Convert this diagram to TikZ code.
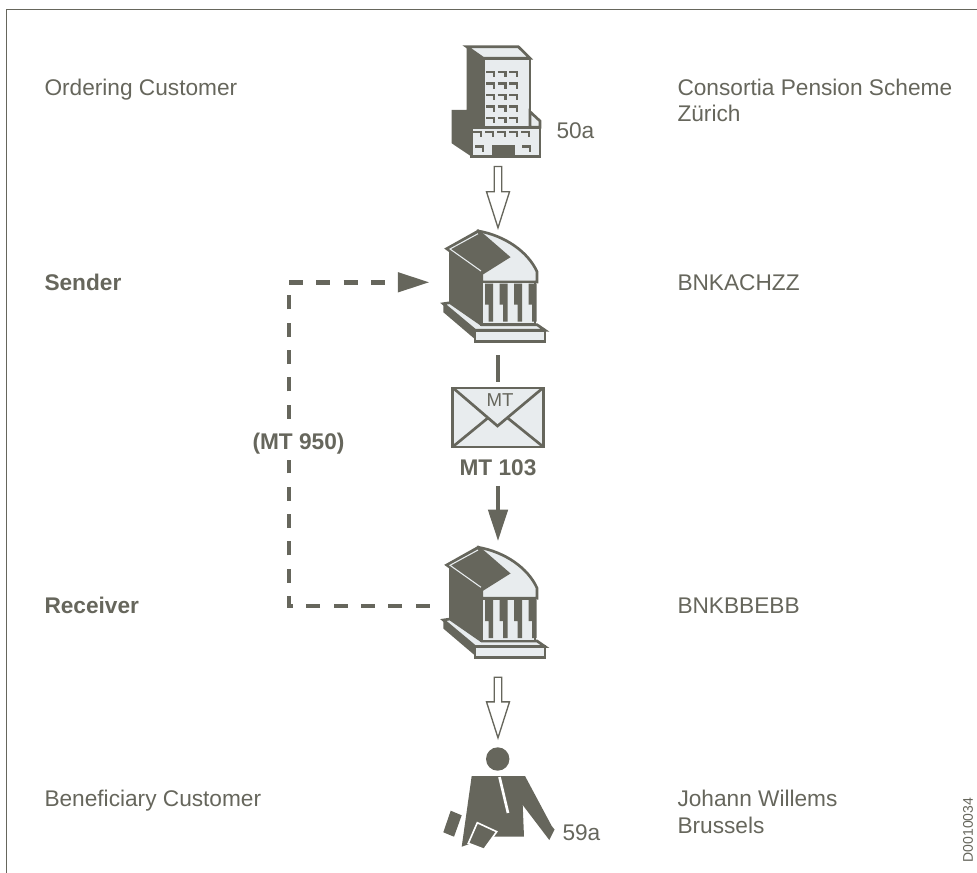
\documentclass[tikz,border=0pt]{standalone}
\usepackage{fontspec}
\setmainfont{Liberation Sans}
\usetikzlibrary{calc,arrows.meta}

\definecolor{swgray}{RGB}{102,102,92}
\definecolor{swlight}{RGB}{232,236,238}

\tikzset{every picture/.style={line width=0.75pt}}
\tikzset{
  icon/.style={draw=swgray, fill=swlight, line width=2pt, line join=miter},
  dark/.style={fill=swgray, draw=swgray, line width=0.5pt, line join=miter},
  win/.style={draw=swgray, line width=1.8pt},
  lbl/.style={inner sep=0.75pt, text=swgray, font=\fontsize{17}{20}\selectfont},
  bold lbl/.style={lbl, font=\fontsize{17}{20}\selectfont\bfseries},
  spot/.style={inner sep=0pt, minimum width=102pt, minimum height=81pt},
  hollow/.style={draw=swgray, fill=white, line width=1pt, line join=miter},
  flow/.style={draw=swgray, line width=3.5pt},
  head/.style={-{Triangle[length=23.8pt,width=14.3pt]}},
  loopline/.style={draw=swgray, line width=3.4pt, dash pattern=on 10.5pt off 10pt},
}

\newcommand{\hollowarrow}[2]{%
  \draw[hollow] ($(#1)+(-3.7,0)$) -- ($(#2)+(-3.7,-36)$) -- ($(#2)+(-11.5,-36)$) -- (#2) -- ($(#2)+(11.5,-36)$) -- ($(#2)+(3.7,-36)$) -- ($(#1)+(3.7,0)$) -- cycle;}

\begin{document}
\begin{tikzpicture}[x=0.75pt,y=0.75pt,yscale=-1,xscale=1]
\useasboundingbox (0,0) rectangle (977,873);

%Straight Lines: frame
\draw[swgray, line width=0.8pt] (6.7,873) -- (6.7,9.5) -- (977,9.5);

%Icon places
\node (bld) [inner sep=0pt, minimum width=66pt, minimum height=82.5pt] at (498,102) {};
\node (bankS) [spot] at (498,282.3) {};
\node (bankR) [spot] at (498,606) {};
\node (person) [inner sep=0pt, minimum width=84pt, minimum height=85pt] at (498,795) {};

%Shape: office tower
\fill[swgray] (466.7,46.7) -- (483.3,58.3) -- (483.3,127.3) -- (471.7,127.3) -- (471.7,156.7) -- (451.7,143.3) -- (451.7,110) -- (466.7,110) -- cycle;
\draw[icon] (466.7,46.7) -- (518.3,46.7) -- (530,58.3) -- (483.3,58.3) -- cycle;
\draw[icon] (483.3,58.3) rectangle (530,127.3);
\draw[icon] (530,111.7) -- (540,121) -- (540,127.3) -- (530,127.3) -- cycle;
\draw[icon] (471.7,127.3) rectangle (540,156.7);
\fill[swgray] (491.7,145) rectangle (515,156.7);
\foreach \wx in {486,497.5,509} \foreach \wy in {72,83.5,95,106.5,118} {\draw[win] (\wx,\wy) -- ++(8,0) -- ++(0,5.5);}
\foreach \wx in {473,485,497,509,521} {\draw[win] (\wx,132) -- ++(8,0) -- ++(0,5.5);}
\draw[win] (475,146.5) -- ++(8,0) -- ++(0,5.5);
\draw[win] (522,146.5) -- ++(8,0) -- ++(0,5.5);

%Shape: banks
\foreach \dy in {-316.3,0} {
\begin{scope}[shift={(0,\dy)}]
\fill[swgray] (443.3,620) -- (475,646.5) -- (475,655.5) -- (443.3,628.5) -- cycle;
\draw[icon] (443.3,620) -- (450,619) -- (481.7,641) -- (537,641) -- (545,646.5) -- (475,646.5) -- cycle;
\draw[icon] (475,646.5) rectangle (545,657.5);
\fill[swgray] (449,565) -- (481.7,589) -- (481.7,641) -- (449,619) -- cycle;
\draw[icon] (478.3,547.3) .. controls (505,552) and (528,568) .. (537,588) -- (537,598.3) -- (481.7,598.3) -- (481.7,590) -- cycle;
\fill[swlight] (481.7,598.3) rectangle (535,641);
\foreach \gx in {485,499.5,514,528.5} {\fill[swgray] (\gx,600) -- (\gx+8,600) -- (\gx+8,638) -- (\gx+3.5,638) -- (\gx+3.5,621) -- (\gx,621) -- cycle;}
\draw[swgray, line width=2pt] (481.7,598.3) rectangle (535,641);
\draw[dark, line width=2pt] (446.7,565) -- (478.3,547.3) -- (508.3,573.3) -- (481.7,590) -- cycle;
\draw[swlight, line width=0.8pt] (478,550) -- (450,565.3) -- (481,587.3);
\end{scope}
}

%Shape: person
\fill[swgray] (497.7,759) circle (11.7);
\fill[swgray] (471.7,776) -- (525,776) -- (551.7,826) -- (554.5,829.5) -- (549.3,840) -- (522.7,805) -- (524,836.7) -- (490,836.7) -- (461.7,846.7) -- cycle;
\draw[white, line width=2pt] (499.5,777) -- (508,813);
\fill[swgray] (450.7,810.7) -- (461.7,815.3) -- (454,836.7) -- (443.3,832.3) -- cycle;
\draw[white, line width=1.2pt, fill=swgray] (477.3,822.7) -- (496.7,831.7) -- (484,849.3) -- (468.3,843.3) -- cycle;

%Shape: envelope
\node (env) [draw=swgray, fill=swlight, line width=2pt, inner sep=0pt, minimum width=68pt, minimum height=44.2pt] at (498,417.5) {};
\draw[swgray, line width=2pt] (453.5,388.3) -- (497.5,426) -- (542.5,388.3);
\draw[swgray, line width=2pt] (452.5,447) -- (487.5,418.3);
\draw[swgray, line width=2pt] (543.5,447) -- (508,418.3);
\node (mtTag) [lbl, anchor=base, font=\fontsize{14}{16}\selectfont] at (500,406.7) {MT};

% Text Node
\node (mtName) [bold lbl, anchor=base] at (498,475) {MT 103};

%Straight Lines: message flow
\draw[flow, shorten <=14pt, shorten >=3.75pt] (bankS.south) -- (env.north);
\draw[flow, head, shorten <=6.75pt, shorten >=7.7pt] (mtName.south) -- (bankR.north);

%Hollow arrows
\coordinate (inA) at ($(bld.south)+(0,9)$);
\coordinate (inB) at ($(bankR.south)+(0,16.7)$);
\hollowarrow{inA}{bankS.north}
\hollowarrow{inB}{person.north}

%Straight Lines: statement loop
\draw[loopline, head] (bankR.west) -- ($(bankR.west)+(-140.7,0)$) |- (bankS.west);
\node (mtStmt) [bold lbl, fill=white, inner sep=4pt, anchor=base] at (298.5,449.5) {(MT 950)};

% Text Node
\node (ordRole) [lbl, anchor=base west] at (43,96) {Ordering Customer};
\node (ordName) [lbl, anchor=base west, align=left] at (676,122) {Consortia Pension Scheme\\Zürich};
\node (sndRole) [bold lbl, anchor=base west] at (43,291) {Sender};
\node (sndBic) [lbl, anchor=base west] at (676,291) {BNKACHZZ};
\node (rcvRole) [bold lbl, anchor=base west] at (43,613) {Receiver};
\node (rcvBic) [lbl, anchor=base west] at (676,613) {BNKBBEBB};
\node (benRole) [lbl, anchor=base west] at (43,806) {Beneficiary Customer};
\node (benName) [lbl, anchor=base west, align=left] at (676,833) {Johann Willems\\Brussels};
\node (tag50) [lbl, anchor=base west] at (555,138.3) {50a};
\node (tag59) [lbl, anchor=base west] at (561,840) {59a};
\node (docNo) [lbl, rotate=90, font=\fontsize{10.5}{12}\selectfont] at (968,830) {D0010034};

\end{tikzpicture}
\end{document}
